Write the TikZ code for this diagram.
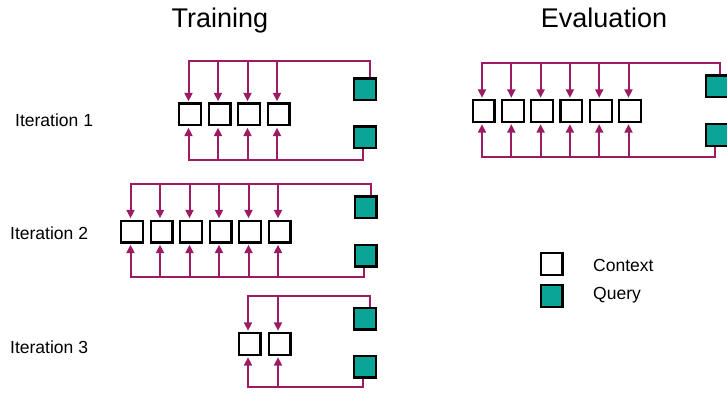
\documentclass[tikz,border=0pt]{standalone}
\usepackage{fontspec}
\setmainfont{Liberation Sans}
\usetikzlibrary{arrows.meta}
\definecolor{linkc}{HTML}{9C1B62}
\definecolor{qteal}{HTML}{0AA596}
\begin{document}
\begin{tikzpicture}[x=1pt,y=-1pt,
  ctx/.style={draw=black, line width=2.2pt, fill=white, minimum size=21.8pt, inner sep=0pt},
  qry/.style={ctx, fill=qteal},
  link/.style={draw=linkc, line width=2pt},
  arr/.style={link, shorten >=1.2pt, -{Triangle[length=8.5pt,width=8pt]}},
  lbl/.style={font=\fontsize{17.5}{20}\selectfont, inner sep=0pt},
  ttl/.style={font=\fontsize{27}{30}\selectfont, inner sep=0pt}]
\useasboundingbox (0,0) rectangle (727,395);
\clip (0,0) rectangle (727,395);

\node[ttl, anchor=base] (ttrain) at (220,27.5) {Training};
\node[ttl, anchor=base] (teval) at (604,28) {Evaluation};

\node[lbl, anchor=base west] (it1) at (15,126.5) {Iteration 1};
\node[lbl, anchor=base west] (it2) at (10,240) {Iteration 2};
\node[lbl, anchor=base west] (it3) at (10,353) {Iteration 3};

\foreach \g/\n/\xo/\dx/\yc/\qx/\qa/\qb/\tb/\bb/\to in {
    a/4/190/29.5/114.5/365/89.5/137.5/61/160/5,
    b/6/132/29.5/231.5/365.5/207.5/255.5/184/277/5,
    c/2/249.5/30/344/365/318.5/366.5/296/387/5,
    e/6/483.5/29.3/111/717/86.5/135/63/157/3}{
  \foreach \i in {1,...,\n}
    \node[ctx] (\g\i) at ({\xo+\dx*(\i-1)},\yc) {};
  \node[qry] (\g q1) at (\qx,\qa) {};
  \node[qry] (\g q2) at (\qx,\qb) {};
  \coordinate (\g top) at (0,\tb);
  \coordinate (\g bot) at (0,\bb);
  \foreach \i in {1,...,\n}{
    \draw[arr] ([xshift=\to pt]\g q1.north) |- ([xshift=-1.5pt]\g\i.north |- \g top) -- ([xshift=-1.5pt]\g\i.north);
    \draw[arr] ([xshift=-2pt]\g q2.south) |- ([xshift=-1.5pt]\g\i.south |- \g bot) -- ([xshift=-1.5pt]\g\i.south);
  }
}

\node[ctx] (lctx) at (551.5,264) {};
\node[qry] (lqry) at (551.5,296) {};
\node[lbl, anchor=west] (tctx) at (593,265) {Context};
\node[lbl, anchor=west] (tqry) at (593,295.5) {Query};
\end{tikzpicture}
\end{document}
